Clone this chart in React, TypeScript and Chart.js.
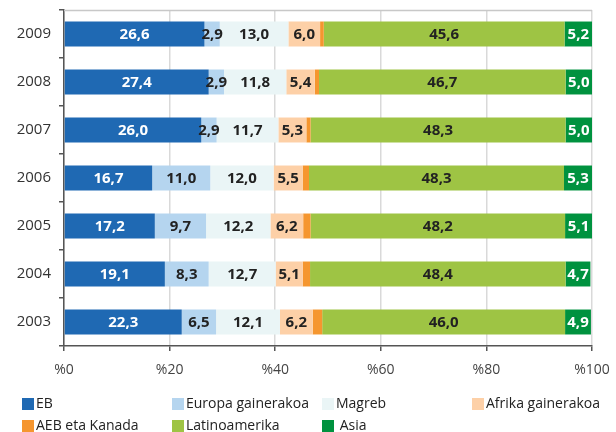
import React, { useEffect, useRef } from "react";
import { Chart, registerables } from "chart.js";

Chart.register(...registerables);

const years = ["2009", "2008", "2007", "2006", "2005", "2004", "2003"];
const eb = [26.6, 27.4, 26.0, 16.7, 17.2, 19.1, 22.3];
const europa = [2.9, 2.9, 2.9, 11.0, 9.7, 8.3, 6.5];
const magreb = [13.0, 11.8, 11.7, 12.0, 12.2, 12.7, 12.1];
const afrika = [6.0, 5.4, 5.3, 5.5, 6.2, 5.1, 6.2];
const aeb = [0.7, 0.8, 0.8, 1.2, 1.4, 1.4, 1.8];
const latino = [45.6, 46.7, 48.3, 48.3, 48.2, 48.4, 46.0];
const asia = [5.2, 5.0, 5.0, 5.3, 5.1, 4.7, 4.9];
const xTicks = [0, 20, 40, 60, 80, 100];

const seriesNames = ["EB", "Europa gainerakoa", "Magreb", "Afrika gainerakoa", "AEB eta Kanada", "Latinoamerika", " Asia"];
const seriesColors = ["#1f69b3", "#b5d5ef", "#eaf5f6", "#fdd0a7", "#f5962f", "#9ec444", "#00923f"];
const labelColors = ["#ffffff", "#222222", "#222222", "#222222", null, "#222222", "#ffffff"];
const seriesData = [eb, europa, magreb, afrika, aeb, latino, asia];

const FONT = "'Open Sans', sans-serif";

const valueLabels = {
  id: "valueLabels",
  afterDatasetsDraw(chart: any) {
    const ctx = chart.ctx;
    ctx.save();
    ctx.font = `bold 15px ${FONT}`;
    ctx.textAlign = "center";
    ctx.textBaseline = "middle";
    chart.data.datasets.forEach((ds: any, i: number) => {
      const color = labelColors[i];
      if (!color) return;
      const meta = chart.getDatasetMeta(i);
      meta.data.forEach((bar: any, j: number) => {
        const v = ds.data[j];
        const cx = (bar.x + bar.base) / 2;
        ctx.fillStyle = color;
        ctx.fillText(v.toFixed(1).replace(".", ","), cx, bar.y + 1);
      });
    });
    ctx.restore();
  },
};

const frame = {
  id: "frame",
  afterDraw(chart: any) {
    const { ctx, chartArea } = chart;
    ctx.save();
    ctx.strokeStyle = "#c8c8c8";
    ctx.lineWidth = 1.5;
    ctx.beginPath();
    ctx.moveTo(chartArea.left, chartArea.top + 0.5);
    ctx.lineTo(chartArea.right, chartArea.top + 0.5);
    ctx.stroke();
    ctx.restore();
  },
};

const gridLegend = {
  id: "gridLegend",
  afterDraw(chart: any) {
    const ctx = chart.ctx;
    ctx.save();
    ctx.font = `14px ${FONT}`;
    ctx.textBaseline = "middle";
    ctx.textAlign = "left";
    const cols = [22, 172, 322, 472];
    const rows = [404, 426];
    chart.data.datasets.forEach((ds: any, i: number) => {
      const col = i % 4;
      const row = Math.floor(i / 4);
      const x = cols[col];
      const y = rows[row];
      ctx.fillStyle = ds.backgroundColor;
      ctx.fillRect(x, y - 6, 12, 12);
      ctx.fillStyle = "#222222";
      ctx.fillText(ds.label, x + 14, y);
    });
    ctx.restore();
  },
};

export default function App() {
  const ref = useRef<HTMLCanvasElement>(null);
  useEffect(() => {
    if (!ref.current) return;
    const chart = new Chart(ref.current, {
      type: "bar",
      data: {
        labels: years,
        datasets: seriesData.map((d, i) => ({
          label: seriesNames[i],
          data: d,
          backgroundColor: seriesColors[i],
          borderWidth: 0,
          barPercentage: 0.52,
          categoryPercentage: 1,
        })),
      },
      options: {
        indexAxis: "y",
        animation: false,
        responsive: false,
        maintainAspectRatio: false,
        layout: { padding: { left: 0, right: 24, top: 10, bottom: 46 } },
        plugins: { legend: { display: false }, tooltip: { enabled: false } },
        scales: {
          x: {
            stacked: true,
            min: 0,
            max: 100,
            afterBuildTicks: (s: any) => {
              s.ticks = xTicks.map((v) => ({ value: v }));
            },
            afterFit: (s: any) => {
              s.height = 40;
              s.paddingLeft = 0;
              s.paddingRight = 0;
            },
            grid: { color: "#d9d9d9", lineWidth: 1.5, tickColor: "#555555", tickLength: 5 },
            border: { color: "#555555", width: 1.5 },
            ticks: {
              color: "#444444",
              font: { family: FONT, size: 14 },
              padding: 11,
              callback: (v: any) => "%" + v,
            },
          },
          y: {
            stacked: true,
            afterFit: (s: any) => {
              s.width = 64;
              s.paddingTop = 0;
              s.paddingBottom = 0;
            },
            grid: { offset: true, drawOnChartArea: false, tickColor: "#555555", tickLength: 5, lineWidth: 1.5 },
            border: { color: "#555555", width: 1.5 },
            ticks: { color: "#333333", font: { family: FONT, size: 15 }, padding: 8 },
          },
        },
      },
      plugins: [valueLabels, frame, gridLegend],
    } as any);
    return () => chart.destroy();
  }, []);
  return (
    <div style={{ position: "fixed", left: 0, top: 0, width: 616, height: 432, background: "#fff" }}>
      <canvas ref={ref} width={616} height={432} style={{ width: 616, height: 432 }} />
    </div>
  );
}
